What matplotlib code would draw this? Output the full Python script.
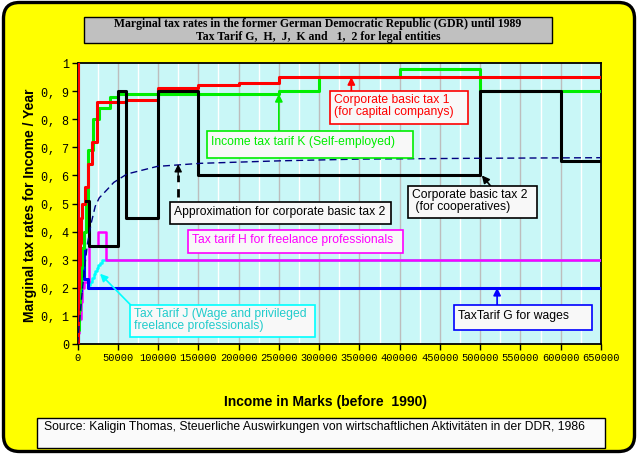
import matplotlib
matplotlib.use("Agg")
import matplotlib.pyplot as plt
from matplotlib.patches import FancyBboxPatch, Rectangle

W, H = 638, 456

# ---------------- data ----------------
x_ticks = list(range(0, 650001, 50000))
y_ticks = [0, 0.1, 0.2, 0.3, 0.4, 0.5, 0.6, 0.7, 0.8, 0.9, 1.0]
y_tick_labels = ["0", "0, 1", "0, 2", "0, 3", "0, 4", "0, 5", "0, 6", "0, 7", "0, 8", "0, 9", "1"]

# Corporate basic tax 1 (capital companies)
red_x = [0, 0, 0, 1000, 2000, 3000, 4000, 5000, 9000, 12500, 17500, 24000, 60000, 100000, 150000, 200000, 250000, 650000]
red_y = [0, 1.0, 0.10, 0.20, 0.28, 0.36, 0.45, 0.50, 0.56, 0.64, 0.72, 0.86, 0.87, 0.91, 0.92, 0.93, 0.95, 0.95]

# Income tax tarif K (self-employed)
green_x = [0, 1000, 2000, 3000, 4000, 6000, 8000, 10000, 13000, 19000, 27000, 40000, 50000, 250000, 300000, 400000, 500000, 650000]
green_y = [0.0, 0.05, 0.12, 0.20, 0.27, 0.34, 0.40, 0.51, 0.69, 0.80, 0.84, 0.88, 0.89, 0.90, 0.95, 0.98, 0.90, 0.90]

# Corporate basic tax 2 (cooperatives)
black_x = [11000, 14500, 50000, 60000, 100000, 150000, 500000, 600000, 650000]
black_y = [0.51, 0.35, 0.90, 0.45, 0.90, 0.60, 0.90, 0.65, 0.65]

# Tax tarif G for wages
blue_x = [0, 1000, 2000, 3000, 4000, 5000, 6000, 8000, 13500, 650000]
blue_y = [0.02, 0.08, 0.13, 0.19, 0.25, 0.30, 0.34, 0.23, 0.20, 0.20]

# Tax tarif H for freelance professionals
magenta_x = [0, 2000, 4000, 6000, 8000, 14000, 25000, 35000, 650000]
magenta_y = [0.04, 0.09, 0.15, 0.20, 0.22, 0.35, 0.40, 0.30, 0.30]

# Tax tarif J (wage and privileged freelance professionals)
cyan_x = [0, 1000, 2000, 3000, 4000, 5000, 6000, 8000, 13500, 16000, 18000, 20000, 22000, 24000, 26000, 28000, 31000, 650000]
cyan_y = [0.02, 0.07, 0.12, 0.17, 0.22, 0.27, 0.30, 0.23, 0.21, 0.22, 0.235, 0.25, 0.26, 0.27, 0.28, 0.29, 0.30, 0.30]

# Approximation for corporate basic tax 2
approx_x = [0, 3000, 7000, 10000, 12500, 17000, 22000, 27000, 37000, 45000, 61500, 99000, 153000, 253000, 350000, 500000, 650000]
approx_y = [0.0, 0.10, 0.22, 0.30, 0.36, 0.43, 0.49, 0.52, 0.55, 0.575, 0.605, 0.632, 0.643, 0.652, 0.658, 0.661, 0.663]

# ---------------- figure ----------------
fig = plt.figure(figsize=(W / 100, H / 100), dpi=100)
fig.patch.set_facecolor("white")


def fx(px):
    return px / W


def fy(py):
    return 1 - py / H


# outer yellow rounded panel
bg = FancyBboxPatch((3.5 / 100, 3.5 / 100), (W - 7) / 100, (H - 7) / 100,
                    boxstyle="round,pad=0,rounding_size=0.16",
                    transform=fig.dpi_scale_trans, facecolor="#FFFF00",
                    edgecolor="black", linewidth=2.4, zorder=-5)
fig.patches.append(bg)

# title box
fig.patches.append(Rectangle((fx(83.5), fy(43.5)), fx(551.7) - fx(83.5), fy(18.3) - fy(43.5),
                             transform=fig.transFigure, facecolor="#C0C0C0",
                             edgecolor="black", linewidth=1, zorder=1))
fig.text(fx(318), fy(24.5), "Marginal tax rates in the former German Democratic Republic (GDR) until 1989",
         ha="center", va="center", fontsize=8.5, fontweight="bold", family="Liberation Serif", zorder=2)
fig.text(fx(318), fy(37), "Tax Tarif G,  H,  J,  K and   1,  2 for legal entities",
         ha="center", va="center", fontsize=8.5, fontweight="bold", family="Liberation Serif", zorder=2)

# source box
fig.patches.append(Rectangle((fx(37), fy(449)), fx(605) - fx(37), fy(419.3) - fy(449),
                             transform=fig.transFigure, facecolor="#FAFAFA",
                             edgecolor="black", linewidth=1, zorder=1))
fig.text(fx(44), fy(427.5), "Source: Kaligin Thomas, Steuerliche Auswirkungen von wirtschaftlichen Aktivitäten in der DDR, 1986",
         ha="left", va="center", fontsize=8.7, family="Liberation Sans", zorder=2)

# axes
ax = fig.add_axes([fx(77.5), fy(345), fx(601) - fx(77.5), fy(64) - fy(345)])
ax.set_zorder(2)
ax.set_facecolor("#C9F7F7")
ax.set_xlim(0, 650000)
ax.set_ylim(0, 1)
ax.set_xticks(x_ticks)
ax.set_xticklabels([str(v) for v in x_ticks], family="Liberation Mono", fontsize=7.5)
ax.set_xticks(list(range(25000, 650000, 50000)), minor=True)
ax.set_yticks(y_ticks)
ax.set_yticklabels(y_tick_labels, family="Liberation Mono", fontsize=8.5)
ax.tick_params(which="major", direction="out", length=4, width=1, pad=2)
ax.tick_params(which="minor", length=0)
ax.grid(which="major", axis="x", color="#BDBDBD", linewidth=1)
ax.grid(which="minor", axis="x", color="white", linewidth=1)
ax.set_axisbelow(True)
for s in ax.spines.values():
    s.set_linewidth(1.3)
    s.set_color("black")

lw = 2.2
ax.plot(cyan_x, cyan_y, drawstyle="steps-post", color="#00FFFF", lw=1.8, zorder=3)
ax.plot(magenta_x, magenta_y, drawstyle="steps-post", color="#FF00FF", lw=1.8, zorder=3.2)
ax.plot(blue_x, blue_y, drawstyle="steps-post", color="#0000FF", lw=lw, zorder=3.4)
ax.plot(green_x, green_y, drawstyle="steps-post", color="#00EE00", lw=lw, zorder=3.6)
ax.plot(red_x, red_y, drawstyle="steps-post", color="#FF0000", lw=lw, zorder=3.8)
ax.plot(black_x, black_y, drawstyle="steps-post", color="black", lw=lw, zorder=4)
ax.plot(approx_x, approx_y, color="#000080", lw=1, ls=(0, (5, 3)), zorder=4.2)

# axis labels
fig.text(fx(30), fy(205), "Marginal tax rates for Income / Year", rotation=90,
         ha="center", va="center", fontsize=10, fontweight="bold", family="Liberation Sans")
fig.text(fx(326), fy(402), "Income in Marks (before  1990)",
         ha="center", va="center", fontsize=10, fontweight="bold", family="Liberation Sans")


def box(x0, y0, x1, y1, ec, text, tc, tx=None, ty=None):
    fig.patches.append(Rectangle((fx(x0), fy(y1)), fx(x1) - fx(x0), fy(y0) - fy(y1),
                                 transform=fig.transFigure, facecolor="#F8F8F8",
                                 edgecolor=ec, linewidth=1.2, zorder=5))
    fig.text(fx(tx if tx is not None else x0 + 4), fy(ty if ty is not None else y0 + 2), text,
             ha="left", va="top", fontsize=8.7, family="Liberation Sans", color=tc,
             linespacing=1.05, zorder=6)


# arrows (data coordinates)
def arrow(tip, tail, color, lwid=1.2):
    ax.annotate("", xy=tip, xytext=tail,
                arrowprops=dict(arrowstyle="-|>", color=color, lw=lwid, mutation_scale=11,
                                shrinkA=0, shrinkB=0), zorder=7)


arrow((340000, 0.95), (340000, 0.90), "#FF0000")
arrow((250000, 0.89), (250000, 0.76), "#00EE00")
arrow((28000, 0.25), (67000, 0.136), "#00FFFF")
arrow((502000, 0.60), (513000, 0.562), "black")
arrow((521000, 0.20), (521000, 0.139), "#0000FF")
ax.plot([125000, 125000], [0.523, 0.60], color="black", lw=2, ls=(0, (3, 2.5)), zorder=7)
arrow((125000, 0.64), (125000, 0.60), "black", lwid=1)

box(330, 92.3, 468.3, 125, "#FF0000", "Corporate basic tax 1\n(for capital companys)", "#FF0000", ty=94)
box(207.3, 131.7, 413.3, 159.3, "#00EE00", "Income tax tarif K (Self-employed)", "#00EE00", ty=136)
box(170, 203.3, 390.7, 225.3, "black", "Approximation for corporate basic tax 2", "black", ty=206)
box(187.7, 231, 402.7, 254, "#FF00FF", "Tax tarif H for freelance professionals", "#FF00FF", ty=234)
box(130, 306, 315, 338.3, "#00FFFF", "Tax Tarif J (Wage and privileged\nfreelance professionals)", "#22CCCC", ty=308)
box(408.3, 186.7, 536.7, 219.3, "black", "Corporate basic tax 2\n (for cooperatives)", "black", ty=189)
box(454.3, 306, 591.7, 331.3, "#0000FF", "TaxTarif G for wages", "black", ty=310)

fig.savefig("out.png", dpi=100, facecolor=fig.get_facecolor())
